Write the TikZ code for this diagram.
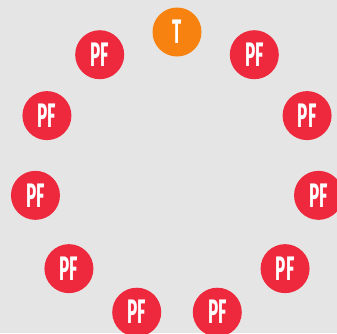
\documentclass[tikz,border=0pt]{standalone}
\usepackage{fontspec}
\usepackage{tikz}
\usetikzlibrary{positioning}
\newfontfamily\ringfont[FakeStretch=0.5]{Fira Sans}

\definecolor{pagegray}{HTML}{E5E5E5}
\definecolor{torange}{HTML}{F7820F}
\definecolor{pfred}{HTML}{EE283D}

\begin{document}
\begin{tikzpicture}[x=1pt, y=1pt,
    disc/.style={circle, minimum size=49pt, inner sep=0pt, text=white,
        font=\ringfont\bfseries\fontsize{34}{34}\selectfont},
    tdisc/.style={disc, fill=torange},
    pfdisc/.style={disc, fill=pfred}]

    \useasboundingbox (-177,-158) rectangle (160,175);
    \clip (-177,-158) rectangle (160,175);
    \fill[pagegray] (-177,-158) rectangle (160,175);

    \node[tdisc] (t) at (90:143) {T};
    \foreach \i in {1,...,10}{
        \node[pfdisc] (pf\i) at ({90-\i*360/11}:143) {PF};
    }

\end{tikzpicture}
\end{document}
